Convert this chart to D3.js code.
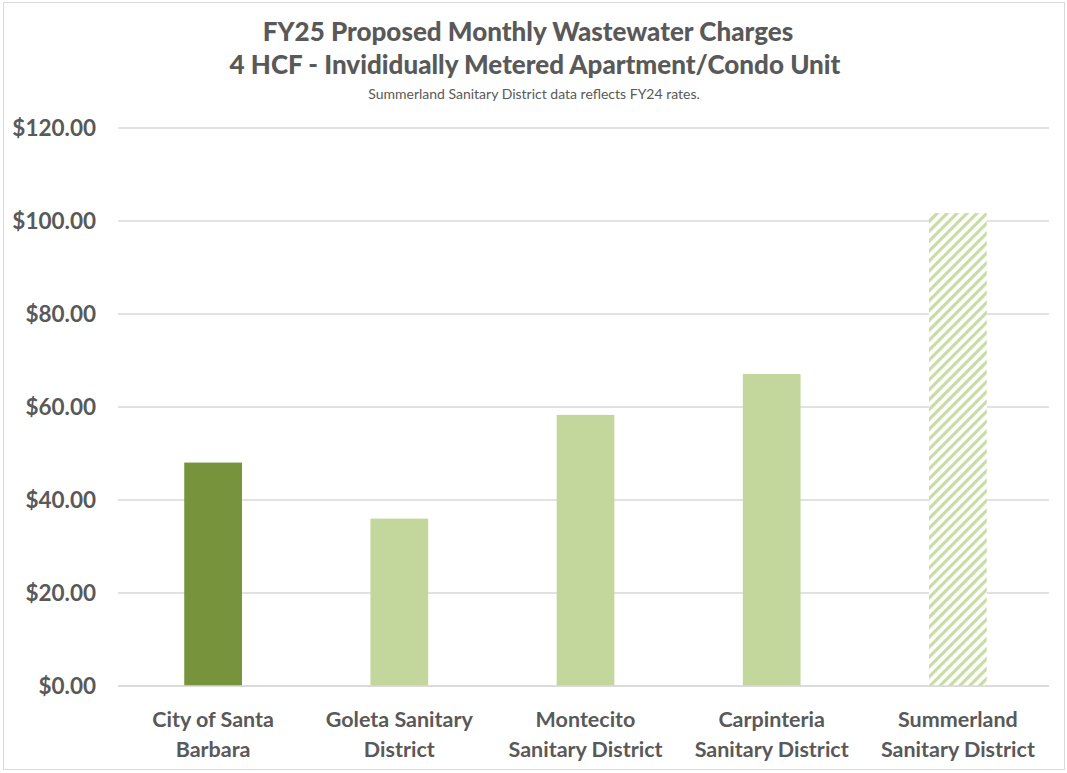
<!DOCTYPE html>
<html lang="en">
<head>
  <meta charset="UTF-8" />
  <title>FY25 Proposed Monthly Wastewater Charges</title>
  <script src="https://d3js.org/d3.v7.min.js"></script>
  <style>
    body { margin: 0; background: #fff; font-family: Lato, "Open Sans", sans-serif; }
    svg { display: block; }
    .tick text { font-weight: bold; fill: #595959; font-family: Lato, "Open Sans", sans-serif; }
  </style>
</head>
<body>
<svg width="1067" height="773"></svg>
<script>
  const categories = [
    ["City of Santa", "Barbara"],
    ["Goleta Sanitary", "District"],
    ["Montecito", "Sanitary District"],
    ["Carpinteria", "Sanitary District"],
    ["Summerland", "Sanitary District"]
  ];
  const charges = [48.05, 36.0, 58.3, 67.1, 101.7];
  const yTicks = [0, 20, 40, 60, 80, 100, 120];

  const svg = d3.select("svg");
  const margin = { top: 128, right: 18, bottom: 87, left: 118 };
  const width = 1067, height = 773;

  // hatch for the FY24 bar
  const defs = svg.append("defs");
  const pat = defs.append("pattern")
    .attr("id", "hatch")
    .attr("patternUnits", "userSpaceOnUse")
    .attr("width", 7).attr("height", 7)
    .attr("patternTransform", "rotate(45)");
  pat.append("rect").attr("width", 7).attr("height", 7).attr("fill", "#fff");
  pat.append("rect").attr("width", 3.2).attr("height", 7).attr("fill", "#c9dca6");

  svg.append("rect")
    .attr("x", 3.5).attr("y", 2.5)
    .attr("width", width - 6).attr("height", height - 6)
    .attr("fill", "none").attr("stroke", "#d9d9d9");

  const x = d3.scaleBand()
    .domain(d3.range(categories.length))
    .range([margin.left + 2, width - margin.right + 2])
    .paddingInner(0.69).paddingOuter(0.345);

  const y = d3.scaleLinear()
    .domain([0, 120])
    .range([height - margin.bottom, margin.top]);

  // gridlines
  svg.append("g")
    .selectAll("line")
    .data(yTicks)
    .join("line")
    .attr("x1", margin.left).attr("x2", width - margin.right)
    .attr("y1", d => y(d)).attr("y2", d => y(d))
    .attr("stroke", "#d9d9d9").attr("stroke-width", 1.5);

  const yAxis = svg.append("g")
    .attr("transform", `translate(${margin.left - 22},0)`)
    .call(d3.axisLeft(y).tickValues(yTicks).tickFormat(d => "$" + d3.format(".2f")(d)).tickSize(0).tickPadding(0));
  yAxis.select(".domain").remove();
  yAxis.attr("font-family", null);
  yAxis.selectAll("text").attr("font-size", 22.5).attr("dy", "0.35em");

  svg.append("g")
    .selectAll("rect")
    .data(charges)
    .join("rect")
    .attr("x", (d, i) => x(i))
    .attr("width", x.bandwidth())
    .attr("y", d => y(d))
    .attr("height", d => y(0) - y(d))
    .attr("fill", (d, i) => i === 0 ? "#77933c" : i === 4 ? "url(#hatch)" : "#c3d69b");

  // baseline over bars
  svg.append("line")
    .attr("x1", margin.left).attr("x2", width - margin.right)
    .attr("y1", y(0)).attr("y2", y(0))
    .attr("stroke", "#d9d9d9").attr("stroke-width", 1.5);

  const labels = svg.append("g")
    .selectAll("text")
    .data(categories)
    .join("text")
    .attr("x", (d, i) => x(i) + x.bandwidth() / 2)
    .attr("y", 727)
    .attr("text-anchor", "middle")
    .attr("font-size", 21.5).attr("font-weight", "bold").attr("fill", "#595959");
  labels.each(function (d) {
    d3.select(this).selectAll("tspan")
      .data(d)
      .join("tspan")
      .attr("x", d3.select(this).attr("x"))
      .attr("dy", (t, j) => j === 0 ? 0 : 30)
      .text(t => t);
  });

  const titles = ["FY25 Proposed Monthly Wastewater Charges", "4 HCF - Invididually Metered Apartment/Condo Unit"];
  const titleX = [528, 535];
  svg.append("g")
    .selectAll("text")
    .data(titles)
    .join("text")
    .attr("x", (d, i) => titleX[i]).attr("y", (d, i) => 41 + i * 33)
    .attr("text-anchor", "middle")
    .attr("font-size", 26).attr("font-weight", "900").attr("fill", "#595959")
    .text(d => d);

  svg.append("text")
    .attr("x", 534).attr("y", 99)
    .attr("text-anchor", "middle")
    .attr("font-size", 14).attr("fill", "#595959")
    .text("Summerland Sanitary District data reflects FY24 rates.");
</script>
</body>
</html>
